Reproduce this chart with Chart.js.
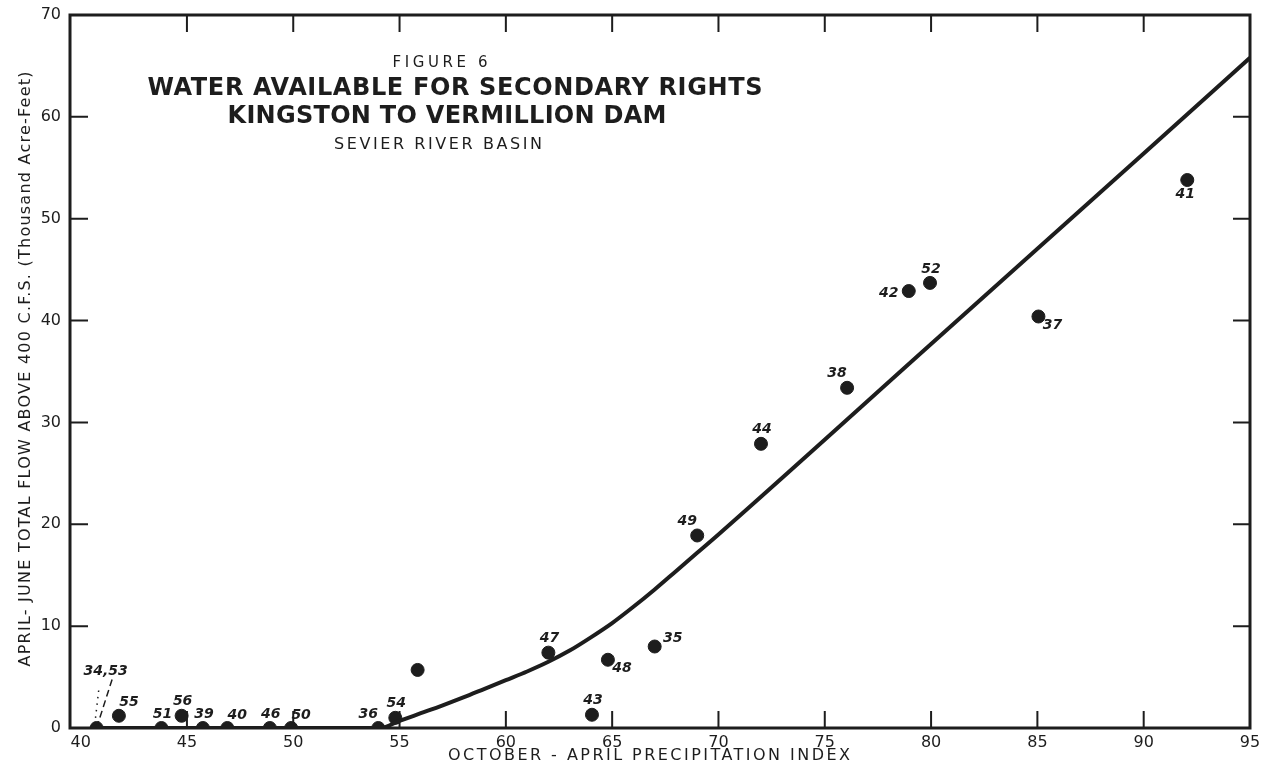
<!DOCTYPE html>
<html>
<head>
<meta charset="utf-8">
<script src="https://cdn.jsdelivr.net/npm/chart.js@4.4.1/dist/chart.umd.min.js"></script>
<style>
  html, body { margin: 0; padding: 0; background: #ffffff; }
  #wrap { width: 1268px; height: 776px; }
</style>
</head>
<body>
<div id="wrap"><canvas id="fig6" width="1268" height="776"></canvas></div>
<script>
// year labels, precipitation index and flow for each plotted year
var years = ['34,53', '55', '51', '56', '39', '40', '46', '50', '36', '54', '', '47', '48', '43', '35', '49', '44', '38', '42', '52', '37', '41'];
var precipIndex = [40.75, 41.8, 43.8, 44.75, 45.75, 46.9, 48.9, 49.9, 54.0, 54.8, 55.85, 62.0, 64.8, 64.05, 67.0, 69.0, 72.0, 76.05, 78.95, 79.95, 85.05, 92.05];
var flow = [0, 1.2, 0, 1.2, 0, 0, 0, 0, 0, 1.0, 5.7, 7.4, 6.7, 1.3, 8.0, 18.9, 27.9, 33.4, 42.9, 43.7, 40.4, 53.8];

// fitted curve
var curveX = [40.75, 54.1, 55, 56, 57, 58, 59, 60, 61, 62, 63, 64, 65, 66, 67, 68, 69, 70, 80, 90, 95];
var curveY = [0, 0, 0.7, 1.45, 2.2, 3.0, 3.85, 4.7, 5.55, 6.5, 7.6, 8.9, 10.3, 11.9, 13.6, 15.4, 17.2, 19.0, 37.7, 56.4, 65.8];

// leader lines for the "34,53" label
var dashLeadX = [40.75, 41.5];
var dashLeadY = [0, 4.9];
var dotLeadX = [40.7, 40.85];
var dotLeadY = [1.0, 3.7];

var xTicks = [40, 45, 50, 55, 60, 65, 70, 75, 80, 85, 90, 95];
var yTicks = [0, 10, 20, 30, 40, 50, 60, 70];

// where each year label sits around its dot
var labelPlace = ['lead', 'ne', 'n', 'n', 'n', 'ne', 'n', 'ne', 'nw', 'n', '', 'n', 'se', 'n', 'e', 'nw', 'n', 'nw', 'w', 'n', 'se', 's'];

var INK = '#1d1d1d';
var FONT = '"DejaVu Sans", sans-serif';

function pairs(xs, ys) {
    return xs.map(function (x, i) { return { x: x, y: ys[i] }; });
}

function spaced(ctx, text, cx, cy, font, width) {
    ctx.font = font;
    ctx.letterSpacing = '0px';
    var w = ctx.measureText(text).width;
    var gap = (width - w) / (text.length - 1);
    ctx.letterSpacing = gap + 'px';
    ctx.textAlign = 'left';
    ctx.textBaseline = 'middle';
    ctx.fillText(text, cx - width / 2, cy);
    ctx.letterSpacing = '0px';
}

var offsets = {
    n: [1, -14], ne: [10, -13], nw: [-10, -14], e: [18, -8],
    se: [14, 9], w: [-20, 2], s: [-2, 14], lead: [9, -57]
};

var inkPlugin = {
    id: 'ink',
    beforeDatasetsDraw: function (chart) {
        var ctx = chart.ctx, a = chart.chartArea;
        var sx = chart.scales.x, sy = chart.scales.y;
        ctx.save();
        ctx.strokeStyle = INK;
        ctx.lineWidth = 3;
        ctx.strokeRect(a.left, a.top, a.right - a.left, a.bottom - a.top);
        ctx.lineWidth = 2;
        ctx.beginPath();
        xTicks.slice(1, -1).forEach(function (v) {
            var px = sx.getPixelForValue(v);
            ctx.moveTo(px, a.bottom); ctx.lineTo(px, a.bottom - 17);
            ctx.moveTo(px, a.top); ctx.lineTo(px, a.top + 17);
        });
        yTicks.slice(1, -1).forEach(function (v) {
            var py = sy.getPixelForValue(v);
            ctx.moveTo(a.left, py); ctx.lineTo(a.left + 18, py);
            ctx.moveTo(a.right, py); ctx.lineTo(a.right - 17, py);
        });
        ctx.stroke();
        ctx.restore();
    },
    afterDatasetsDraw: function (chart) {
        var ctx = chart.ctx;
        ctx.save();
        ctx.fillStyle = INK;
        var pts = chart.getDatasetMeta(3).data;
        ctx.font = 'italic bold 14px ' + FONT;
        ctx.textAlign = 'center';
        ctx.textBaseline = 'middle';
        years.forEach(function (lab, i) {
            if (!lab) return;
            var off = offsets[labelPlace[i]];
            ctx.fillText(lab, pts[i].x + off[0], pts[i].y + off[1]);
        });

        spaced(ctx, 'FIGURE 6', 440, 63, '15px ' + FONT, 95);
        spaced(ctx, 'WATER AVAILABLE FOR SECONDARY RIGHTS', 455, 89, 'bold 24px ' + FONT, 615);
        spaced(ctx, 'KINGSTON TO VERMILLION DAM', 447, 117, 'bold 24px ' + FONT, 439);
        spaced(ctx, 'SEVIER RIVER BASIN', 438, 145, '16px ' + FONT, 208);

        spaced(ctx, 'OCTOBER - APRIL PRECIPITATION INDEX', 649, 756, '16px ' + FONT, 402);

        ctx.translate(26, 369);
        ctx.rotate(-Math.PI / 2);
        spaced(ctx, 'APRIL- JUNE TOTAL FLOW ABOVE 400 C.F.S. (Thousand Acre-Feet)', 0, 0, '16px ' + FONT, 595);
        ctx.restore();
    }
};

document.addEventListener('DOMContentLoaded', function () {
    var ctx = document.getElementById('fig6').getContext('2d');
    var fig6 = new Chart(ctx, {
        type: 'scatter',
        data: {
            datasets: [{
                data: pairs(curveX, curveY),
                showLine: true,
                borderColor: INK,
                borderWidth: 4,
                pointRadius: 0,
                cubicInterpolationMode: 'monotone'
            }, {
                data: pairs(dashLeadX, dashLeadY),
                showLine: true,
                borderColor: INK,
                borderWidth: 1.5,
                borderDash: [7, 4],
                pointRadius: 0
            }, {
                data: pairs(dotLeadX, dotLeadY),
                showLine: true,
                borderColor: INK,
                borderWidth: 1.5,
                borderDash: [1.5, 5],
                pointRadius: 0
            }, {
                data: pairs(precipIndex, flow),
                pointRadius: 6.5,
                pointBackgroundColor: INK,
                pointBorderColor: INK,
                pointBorderWidth: 1
            }]
        },
        options: {
            responsive: false,
            animation: false,
            events: [],
            layout: { padding: { top: 15, right: 18, left: 0, bottom: 0 } },
            plugins: {
                legend: { display: false },
                title: { display: false },
                tooltip: { enabled: false }
            },
            scales: {
                x: {
                    type: 'linear',
                    min: 39.5,
                    max: 95,
                    grid: { display: false },
                    border: { display: false },
                    afterBuildTicks: function (scale) {
                        scale.ticks = xTicks.map(function (v) { return { value: v }; });
                    },
                    afterFit: function (scale) { scale.height = 48; },
                    ticks: {
                        color: INK,
                        padding: -3,
                        maxRotation: 0,
                        autoSkip: false,
                        font: { family: FONT, size: 16 }
                    }
                },
                y: {
                    min: 0,
                    max: 70,
                    grid: { display: false },
                    border: { display: false },
                    afterBuildTicks: function (scale) {
                        scale.ticks = yTicks.map(function (v) { return { value: v }; });
                    },
                    afterFit: function (scale) { scale.width = 70; },
                    ticks: {
                        color: INK,
                        padding: 1,
                        autoSkip: false,
                        font: { family: FONT, size: 16 }
                    }
                }
            }
        },
        plugins: [inkPlugin]
    });
});
</script>
</body>
</html>
